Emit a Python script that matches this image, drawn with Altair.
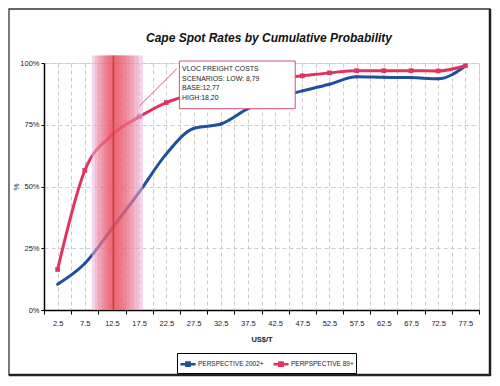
import altair as alt
import pandas as pd

# ---- data ----
categories = [2.5, 7.5, 12.5, 17.5, 22.5, 27.5, 32.5, 37.5, 42.5, 47.5,
              52.5, 57.5, 62.5, 67.5, 72.5, 77.5]
persp_2002 = [10.4, 18.8, 33.0, 47.7, 63.2, 73.5, 75.3, 81.5, 86.0, 88.7,
              91.4, 94.4, 94.2, 94.1, 93.6, 98.8]
persp_89 = [16.4, 56.5, 70.8, 78.2, 84.0, 87.5, 90.0, 92.0, 93.7, 94.8,
            96.0, 96.9, 96.9, 96.9, 96.8, 98.9]
series_names = ["PERSPECTIVE 2002+", "PERPSPECTIVE 89+"]
scenario_low, scenario_base, scenario_high = 8.79, 12.77, 18.20
note_lines = ["VLOC FREIGHT COSTS", "SCENARIOS: LOW: 8,79", "BASE:12,77", "HIGH:18,20"]
title_text = "Cape Spot Rates by Cumulative Probability"
tick_values = [i * 2.5 for i in range(33)]

BLUE = "#1f4f9e"
RED = "#e2335c"
FONT = "Liberation Sans, Arial"

style = {series_names[0]: (BLUE, "diamond", 14), series_names[1]: (RED, "square", 22)}
rows = []
for c, a, b in zip(categories, persp_2002, persp_89):
    for name, v in ((series_names[0], a), (series_names[1], b)):
        col, shp, sz = style[name]
        rows.append({"x": c, "y": v / 100, "series": name,
                     "pcolor": col, "pshape": shp, "psize": sz})
df = pd.DataFrame(rows)

x_scale = alt.Scale(domain=[0, 80], nice=False, zero=False)
y_scale = alt.Scale(domain=[0, 1], nice=False)
color_scale = alt.Scale(domain=series_names, range=[BLUE, RED])

x_axis = alt.Axis(
    values=tick_values,
    labelExpr="(round(datum.value * 10) % 50) == 25 ? format(datum.value, '.1f') : ''",
    tickOpacity={"condition": {"test": "round(datum.value * 10) % 50 === 0", "value": 1}, "value": 0},
    labelOverlap=False, labelFlush=False,
    grid=True, gridDash=[4, 3], gridColor="#cccccc", gridWidth=1,
    domainColor="black", domainWidth=1.5, tickColor="black", tickSize=4,
    labelFontSize=7.5, labelFont=FONT, labelColor="#222", labelPadding=5,
    title="US$/T", titleFont=FONT, titleFontSize=7.5, titleFontWeight="bold",
    titlePadding=9, titleColor="#222",
)
y_axis = alt.Axis(
    values=[0, 0.25, 0.5, 0.75, 1], format=".0%",
    grid=True, gridDash=[4, 3], gridColor="#cccccc", gridWidth=1,
    domainColor="black", domainWidth=1.5, tickColor="black", tickSize=3,
    labelFontSize=7.5, labelFont=FONT, labelColor="#222", labelPadding=2,
    title="%", titleFont=FONT, titleFontSize=8, titleFontWeight="normal",
    titleColor="#222", titleX=-24,
)


def X(field="x:Q"):
    return alt.X(field, scale=x_scale, axis=x_axis)


def Y(field="y:Q"):
    return alt.Y(field, scale=y_scale, axis=y_axis)


base = alt.Chart(df)

lines = base.mark_line(strokeWidth=3, interpolate="monotone").encode(
    x=X(), y=Y(),
    color=alt.Color("series:N", scale=color_scale, sort=series_names,
                    legend=alt.Legend(
                        title=None, orient="none", legendX=133, legendY=290,
                        direction="horizontal", strokeColor="black", padding=2,
                        symbolType="M-1,0L1,0M-0.22,-0.22L0.22,-0.22L0.22,0.22L-0.22,0.22Z",
                        symbolStrokeWidth=2.5, symbolSize=230,
                        labelFontSize=6.5, labelFont=FONT, labelColor="#222",
                        columnPadding=4, labelOffset=1)),
)

points = base.mark_point(filled=True, opacity=1).encode(
    x=X(), y=Y(),
    color=alt.Color("pcolor:N", scale=None),
    shape=alt.Shape("pshape:N", scale=None),
    size=alt.Size("psize:Q", scale=None),
)

# scenario band: stacked translucent rects narrowing toward the base case
band_rows = []
fracs = [1.0, 0.85, 0.7, 0.55, 0.42, 0.3, 0.18]
for i, f in enumerate(fracs):
    band_rows.append({
        "x": scenario_base - (scenario_base - scenario_low) * f,
        "x2": scenario_base + (scenario_high - scenario_base) * f,
        "y": 0.0, "y2": 1.03,
        "c": "#efb3dc" if i == 0 else "#e8434f",
        "o": 0.55 if i == 0 else 0.19,
    })
band_df = pd.DataFrame(band_rows)
band = alt.Chart(band_df).mark_rect().encode(
    x=X(), x2="x2:Q", y=Y(), y2="y2:Q",
    color=alt.Color("c:N", scale=None),
    opacity=alt.Opacity("o:Q", scale=None),
)
center = alt.Chart(pd.DataFrame({"x": [scenario_base], "y": [0.0], "y2": [1.03]})).mark_rule(
    color="#c8402c", strokeWidth=1.5).encode(x=X(), y=Y(), y2="y2:Q")

# annotation
leader = alt.Chart(pd.DataFrame({"x": [24.4], "x2": [17.6], "y": [0.976], "y2": [0.827]})).mark_rule(
    color="#d9506e", strokeWidth=1).encode(x=X(), x2="x2:Q", y=Y(), y2="y2:Q")
box = alt.Chart(pd.DataFrame({"x": [24.9], "x2": [46.2], "y": [1.008], "y2": [0.815]})).mark_rect(
    fill="white", stroke="#d9506e", strokeWidth=1).encode(x=X(), x2="x2:Q", y=Y(), y2="y2:Q")
note_df = pd.DataFrame({"t": note_lines, "x": [25.4] * 4, "y": [0.975, 0.937, 0.898, 0.860]})
note = alt.Chart(note_df).mark_text(align="left", baseline="middle", fontSize=6.9,
                                    font=FONT, color="#222").encode(
    x=X(), y=Y(), text="t:N")

title = alt.Chart(pd.DataFrame({"t": [title_text]})).mark_text(
    align="center", baseline="alphabetic", font=FONT, fontSize=12, fontWeight="bold",
    fontStyle="italic", color="#111").encode(
    x=alt.value(225), y=alt.value(-21), text="t:N")

# outer frame: thin top/left, heavier right/bottom edge
frame = alt.Chart(alt.Data(values=[{}])).mark_rect(filled=False, stroke="#333", strokeWidth=1.3).encode(
    x=alt.value(-35), x2=alt.value(446), y=alt.value(-54), y2=alt.value(312))
frame_r = alt.Chart(alt.Data(values=[{}])).mark_rule(stroke="#222", strokeWidth=2.5).encode(
    x=alt.value(446), y=alt.value(-54), y2=alt.value(313))
frame_b = alt.Chart(alt.Data(values=[{}])).mark_rule(stroke="#222", strokeWidth=2.5).encode(
    x=alt.value(-35), x2=alt.value(447), y=alt.value(312))

chart = alt.layer(lines, points, band, center, box, note, leader, title,
                  frame, frame_r, frame_b).properties(
    width=435, height=247,
    autosize=alt.AutoSizeParams(type="none"),
    padding={"left": 36, "top": 55, "right": 13, "bottom": 68},
).configure_view(stroke=None).configure(background="white")

chart.save("out.html", embed_options={"renderer": "svg", "actions": False})
